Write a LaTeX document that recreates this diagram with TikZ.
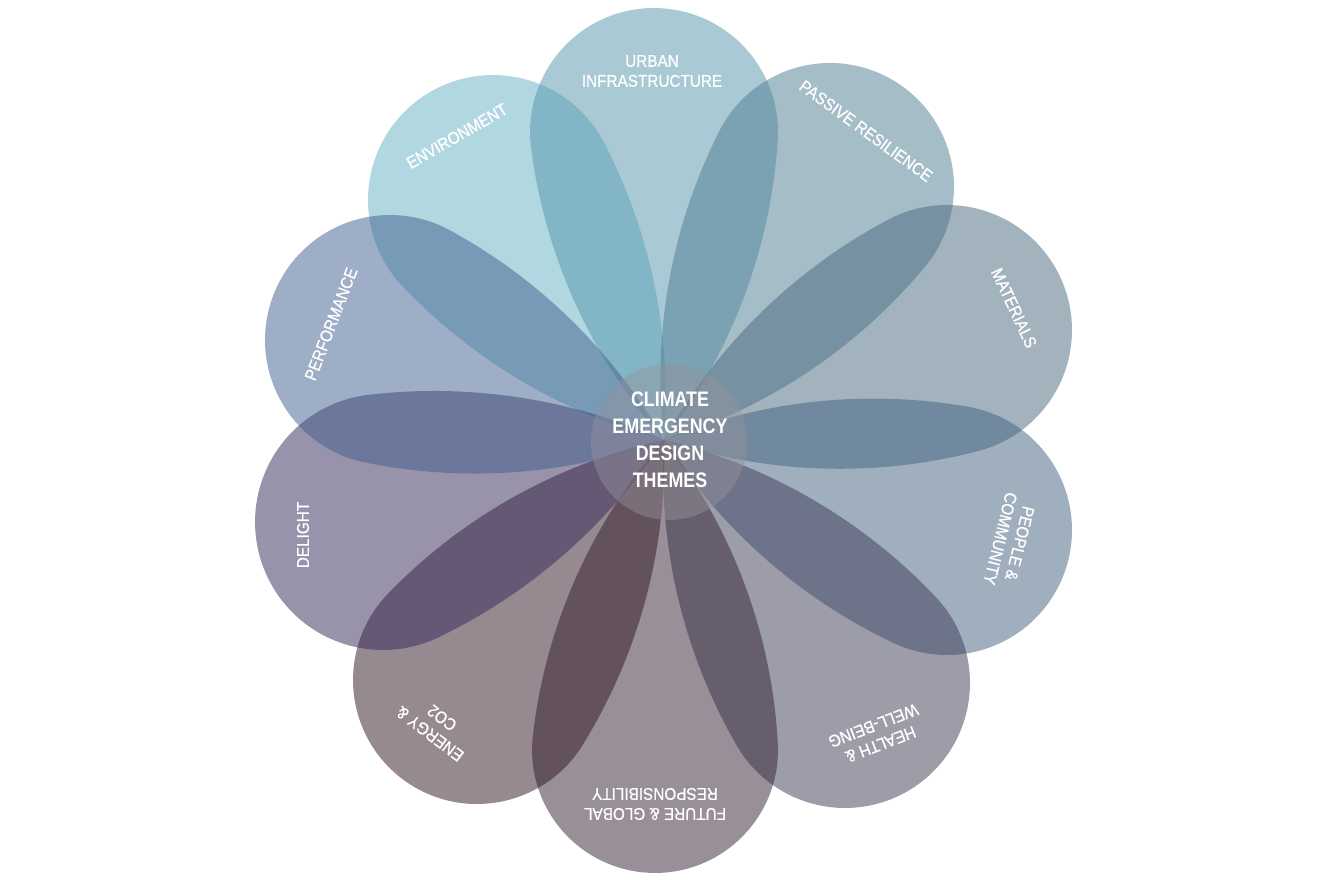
\documentclass[tikz,border=0pt]{standalone}
\usepackage{fontspec}
\newfontfamily\labfont[FakeStretch=0.9,FakeBold=0.6]{Liberation Sans}
\newfontfamily\cenfont[FakeStretch=0.85]{Liberation Sans}
\definecolor{cEnv}{RGB}{101,177,197}
\definecolor{cUrb}{RGB}{85,149,173}
\definecolor{cPas}{RGB}{77,125,145}
\definecolor{cMat}{RGB}{73,105,127}
\definecolor{cPeo}{RGB}{65,97,127}
\definecolor{cHea}{RGB}{61,59,85}
\definecolor{cFut}{RGB}{51,33,51}
\definecolor{cEne}{RGB}{47,21,35}
\definecolor{cDel}{RGB}{51,41,89}
\definecolor{cPer}{RGB}{63,95,143}
\definecolor{cDisc}{RGB}{150,146,156}
\tikzset{
  petalfill/.style={fill opacity=0.5},
  labeltext/.style={text=white, font=\labfont\fontsize{17}{20}\selectfont, align=center, inner sep=0pt},
  centertext/.style={text=white, font=\cenfont\bfseries\fontsize{21}{27}\selectfont, align=center, inner sep=0pt},
  discfill/.style={fill=cDisc, fill opacity=0.45}
}
\newcommand\petal[4]{%
  \pgfmathsetmacro\pDx{#1-6.64}%
  \pgfmathsetmacro\pDy{#2-4.43}%
  \pgfmathsetmacro\pD{veclen(\pDx,\pDy)}%
  \pgfmathsetmacro\pTh{atan2(\pDy,\pDx)}%
  \pgfmathsetmacro\pR{4.4*#3}%
  \pgfmathsetmacro\pP{(2*\pR*#3-#3*#3+\pD*\pD)/(2*\pD)}%
  \pgfmathsetmacro\pQ{sqrt(\pR*\pR-\pP*\pP)}%
  \pgfmathsetmacro\pA{atan2(\pQ,-\pP)}%
  \pgfmathsetmacro\pB{atan2(\pQ,\pD-\pP)}%
  \fill[#4,petalfill,shift={(6.64,4.43)},rotate=\pTh]
    (0,0) arc[start angle=\pA,end angle=\pB,radius=\pR]
          arc[start angle=\pB,end angle=-\pB,radius=#3]
          arc[start angle=-\pB,end angle=-\pA,radius=\pR] -- cycle;
}
\begin{document}
\begin{tikzpicture}[x=100pt,y=100pt]
\useasboundingbox (0,0) rectangle (13.27,8.83);
\fill[white] (0,0) rectangle (13.27,8.83);
% petals
\petal{4.93}{6.83}{1.25}{cEnv}
\petal{6.54}{7.51}{1.24}{cUrb}
\petal{8.30}{6.96}{1.24}{cPas}
\petal{9.47}{5.53}{1.25}{cMat}
\petal{9.47}{3.53}{1.25}{cPeo}
\petal{8.45}{2.00}{1.25}{cHea}
\petal{6.55}{1.33}{1.23}{cFut}
\petal{4.77}{2.03}{1.24}{cEne}
\petal{3.83}{3.61}{1.28}{cDel}
\petal{3.90}{5.43}{1.25}{cPer}
% centre disc
\fill[discfill] (6.69,4.41) circle[radius=0.78];
% labels
\node[labeltext] (urban) at (6.52,8.12) {URBAN\\INFRASTRUCTURE};
\node[labeltext, rotate=30] (env) at (4.57,7.47) {ENVIRONMENT};
\node[labeltext, rotate=-36] (passive) at (8.66,7.52) {PASSIVE RESILIENCE};
\node[labeltext, rotate=-65] (materials) at (10.14,5.75) {MATERIALS};
\node[labeltext, rotate=-104] (people) at (10.10,3.42) {PEOPLE \&\\COMMUNITY};
\node[labeltext, rotate=-159] (health) at (8.77,1.48) {HEALTH \&\\WELL-BEING};
\node[labeltext, rotate=180] (future) at (6.55,0.79) {FUTURE \& GLOBAL\\RESPONSIBILITY};
\node[labeltext, rotate=143] (energy) at (4.36,1.57) {ENERGY \&\\CO2};
\node[labeltext, rotate=90] (delight) at (3.03,3.48) {DELIGHT};
\node[labeltext, rotate=69] (perf) at (3.31,5.59) {PERFORMANCE};
\node[centertext] (centre) at (6.70,4.43) {CLIMATE\\EMERGENCY\\DESIGN\\THEMES};
\end{tikzpicture}
\end{document}
